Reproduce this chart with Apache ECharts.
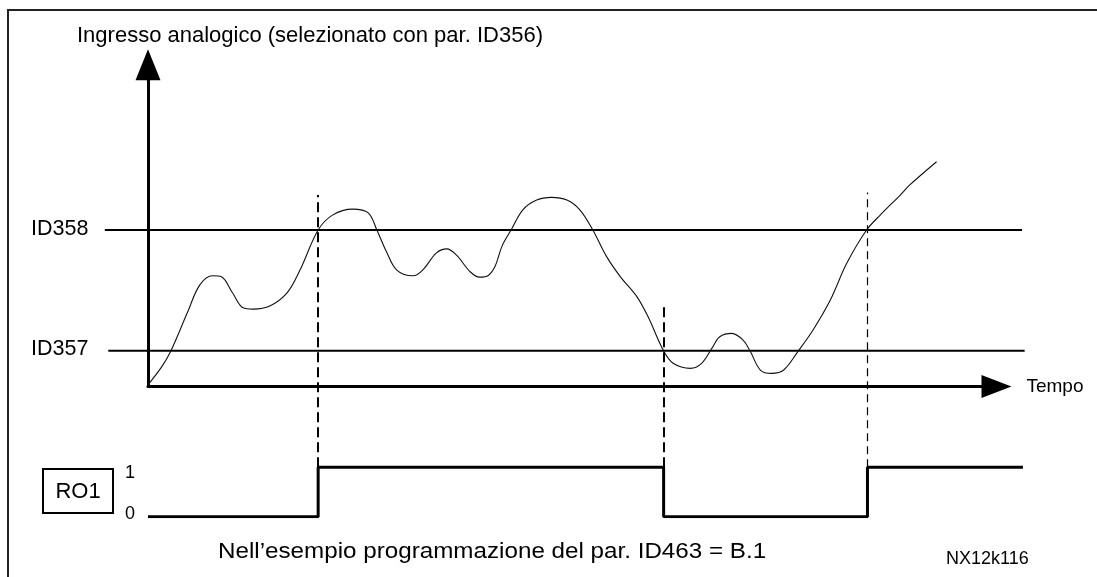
<!DOCTYPE html>
<html>
<head>
<meta charset="utf-8">
<script src="https://cdn.jsdelivr.net/npm/echarts@6/dist/echarts.min.js"></script>
<style>
html,body{margin:0;padding:0;background:#fff;}
#chart{width:1097px;height:577px;}
</style>
</head>
<body>
<div id="chart"></div>
<script>
// analog input, sampled along the time axis
var curveT = [0, 1.6, 2.6, 4.6, 6.0, 7.5, 8.5, 9.8, 11.0, 12.2, 14.1, 16.1, 17.6, 19.7, 21.4, 23.7, 25.5, 26.5, 27.6, 28.8, 30.7, 31.8, 33.4, 34.6, 35.7, 37.3, 38.4, 39.4, 40.2, 41.0, 42.1, 43.4, 45.0, 46.7, 48.5, 50.0, 51.5, 53.1, 54.7, 56.6, 57.9, 59.7, 60.8, 62.8, 64.1, 65.3, 66.2, 67.6, 68.9, 69.7, 70.9, 72.2, 73.6, 75.3, 77.0, 79.0, 80.9, 83.2, 84.8, 87.1, 88.2, 91.3];
var curveV = [0.5, 5.9, 10.3, 22.2, 30.2, 32.9, 32.6, 27.8, 23.4, 23.0, 23.9, 27.8, 34.6, 46.5, 51.0, 52.7, 51.6, 46.5, 40.1, 34.6, 32.9, 34.6, 39.7, 40.9, 39.1, 34.1, 32.5, 33.0, 35.8, 41.8, 46.8, 52.5, 55.4, 56.2, 55.4, 52.5, 46.5, 38.6, 32.6, 26.7, 20.7, 10.6, 6.9, 5.4, 6.9, 11.4, 14.8, 15.8, 13.8, 10.6, 4.9, 3.9, 4.9, 10.6, 16.8, 25.7, 36.6, 46.5, 51.0, 56.9, 59.9, 66.8];

// limits
var thrNames = ['ID358', 'ID357'];
var thrValues = [46.5, 10.6];
var thrStart = [-5, -4.6];
var thrEnd = [101.2, 101.5];

// relay output RO1
var crossT = [19.7, 59.7, 83.3];
var roLevels = [1, 0, 1];
var roStartT = 0, roEndT = 101.3;
var dashTop = [6.5, 4.3, 6.55];
var roTicks = ['0', '1'];

// px per time unit, shared by all grids
var PX_T = 8.637;
var X0 = 148;
var FONT = '"Liberation Sans", Arial, sans-serif';

function rightFor(tMax) {
    return 1097 - (X0 + tMax * PX_T);
}

var chart = echarts.init(document.getElementById('chart'));

var curveData = [];
for (var i = 0; i < curveT.length; i++) {
    curveData.push([curveT[i], curveV[i]]);
}

var stepData = [[roStartT, 0]];
for (var j = 0; j < crossT.length; j++) {
    stepData.push([crossT[j], roLevels[j]]);
}
stepData.push([roEndT, roLevels[roLevels.length - 1]]);

var dashStyles = [
    {color: '#000', width: 2, type: [10, 5]},
    {color: '#000', width: 2, type: [10, 5]},
    {color: '#000', width: 1.2, type: [8, 5]}
];
var dashData = [];
for (var k = 0; k < crossT.length; k++) {
    dashData.push([
        {coord: [crossT[k], 1], lineStyle: dashStyles[k]},
        {coord: [crossT[k], dashTop[k]]}
    ]);
}

var thrSeries = [];
for (var m = 0; m < thrNames.length; m++) {
    thrSeries.push({
        name: thrNames[m],
        type: 'line',
        xAxisIndex: 1,
        yAxisIndex: 1,
        showSymbol: false,
        symbol: 'none',
        lineStyle: {color: '#000', width: 2},
        data: [[thrStart[m], thrValues[m]], [thrEnd[m], thrValues[m]]],
        z: 3
    });
}

var hidden = {show: false};
var yMaxA = 91;

var option = {
    backgroundColor: '#fff',
    animation: false,
    textStyle: {fontFamily: FONT},
    grid: [
        // axes of the analog plot
        {left: X0, right: rightFor(96.5), top: 80.3, bottom: 190.5},
        // limit lines (same y scale, wider x span)
        {left: X0 - 5 * PX_T, right: rightFor(101.5), top: 80.3, bottom: 190.5},
        // RO1 state
        {left: X0, right: rightFor(101.5), top: 170.2, bottom: 60.3}
    ],
    xAxis: [
        {
            gridIndex: 0, type: 'value', min: 0, max: 96.5,
            axisLine: {
                lineStyle: {color: '#000', width: 3},
                symbol: ['none', 'triangle'],
                symbolSize: [23, 30],
                symbolOffset: [0, 15]
            },
            axisTick: hidden, axisLabel: hidden, splitLine: hidden,
            name: 'Tempo', nameLocation: 'end', nameGap: 45,
            nameTextStyle: {color: '#000', fontSize: 19, fontFamily: FONT, align: 'left', verticalAlign: 'middle'}
        },
        {gridIndex: 1, type: 'value', min: -5, max: 101.5, show: false},
        {gridIndex: 2, type: 'value', min: 0, max: 101.5, show: false}
    ],
    yAxis: [
        {
            gridIndex: 0, type: 'value', min: 0, max: yMaxA,
            axisLine: {
                lineStyle: {color: '#000', width: 3},
                symbol: ['none', 'triangle'],
                symbolSize: [25, 31],
                symbolOffset: [0, 15.5]
            },
            axisTick: hidden, axisLabel: hidden, splitLine: hidden
        },
        {gridIndex: 1, type: 'value', min: 0, max: yMaxA, show: false},
        {
            gridIndex: 2, type: 'value', min: 0, max: 7, interval: 1,
            axisLine: hidden, axisTick: hidden, splitLine: hidden,
            axisLabel: {
                show: true, margin: 13, color: '#000', fontSize: 18, fontFamily: FONT,
                formatter: function (v) {
                    if (v == 0) return '{zero|' + roTicks[0] + '}';
                    if (v == 1) return '{one|' + roTicks[1] + '}';
                    return '';
                },
                rich: {
                    zero: {fontSize: 18, fontFamily: FONT, color: '#000', padding: [0, 0, 5, 0]},
                    one: {fontSize: 18, fontFamily: FONT, color: '#000', padding: [12, 0, 0, 0]}
                }
            }
        }
    ],
    series: [
        {
            name: 'Ingresso analogico',
            type: 'line',
            xAxisIndex: 0,
            yAxisIndex: 0,
            smooth: 0.35,
            showSymbol: false,
            symbol: 'none',
            lineStyle: {color: '#111', width: 1.1},
            data: curveData,
            z: 4
        },
        {
            name: 'RO1',
            type: 'line',
            xAxisIndex: 2,
            yAxisIndex: 2,
            step: 'end',
            showSymbol: false,
            symbol: 'none',
            lineStyle: {color: '#000', width: 3},
            data: stepData,
            markLine: {
                silent: true,
                symbol: 'none',
                label: {show: false},
                data: dashData
            },
            z: 3
        }
    ].concat(thrSeries),
    graphic: [
        // outer frame
        {type: 'rect', shape: {x: 8, y: 10, width: 1300, height: 800},
         style: {fill: 'none', stroke: '#222', lineWidth: 2}, z: 1},
        {type: 'text', x: 77, y: 36,
         style: {text: 'Ingresso analogico (selezionato con par. ID356)', fill: '#000', font: '22px ' + FONT, verticalAlign: 'middle'}},
        {type: 'text', x: 31, y: 229,
         style: {text: thrNames[0], fill: '#000', font: '21.5px ' + FONT, verticalAlign: 'middle'}},
        {type: 'text', x: 31, y: 349,
         style: {text: thrNames[1], fill: '#000', font: '21.5px ' + FONT, verticalAlign: 'middle'}},
        {type: 'rect', shape: {x: 43, y: 469, width: 70, height: 44},
         style: {fill: '#fff', stroke: '#000', lineWidth: 2}},
        {type: 'text', x: 78, y: 492,
         style: {text: 'RO1', fill: '#000', font: '22px ' + FONT, align: 'center', verticalAlign: 'middle'}},
        // footnote is set wider than the other texts
        {type: 'text', x: 218, y: 552, scaleX: 1.1,
         style: {text: 'Nell\u2019esempio programmazione del par. ID463 = B.1', fill: '#000', font: '22px ' + FONT, verticalAlign: 'middle'}},
        {type: 'text', x: 946, y: 559,
         style: {text: 'NX12k116', fill: '#000', font: '18px ' + FONT, verticalAlign: 'middle'}}
    ]
};

chart.setOption(option);
</script>
</body>
</html>
